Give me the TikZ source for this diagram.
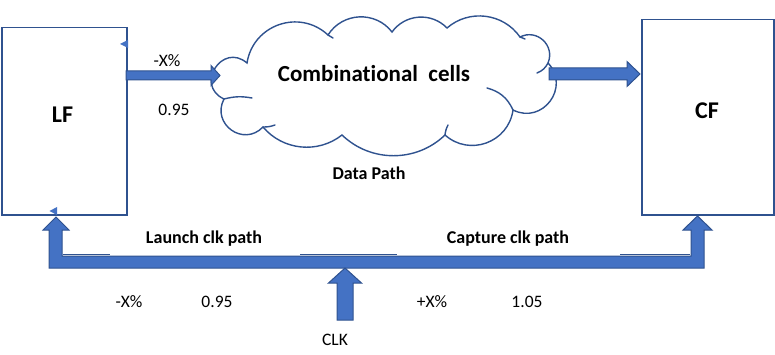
\documentclass[tikz,border=0pt]{standalone}
\usepackage{fontspec}
\setmainfont[Ligatures=CommonOff]{Carlito}
\usetikzlibrary{calc}
\definecolor{fillblue}{HTML}{4472C4}
\definecolor{lineblue}{HTML}{2F528F}
\newcommand\harrow[5]{% start, tip, shaft half, head half, head length
  \draw[barrow] ($(#1)+(0,-#3)$) -- ($(#2)+(-#5,-#3)$) -- ($(#2)+(-#5,-#4)$) -- (#2)
    -- ($(#2)+(-#5,#4)$) -- ($(#2)+(-#5,#3)$) -- ($(#1)+(0,#3)$) -- cycle;}
\begin{document}
\begin{tikzpicture}[x=1pt,y=-1pt,
  box/.style={draw=lineblue,line width=1.5pt,fill=white,inner sep=0,anchor=north west},
  barrow/.style={fill=fillblue,draw=lineblue,line width=1pt,line join=miter},
  cloudline/.style={draw=lineblue,line width=1.4pt,line cap=round},
  flag/.style={fill=fillblue,draw=none},
  lbl/.style={font=\fontsize{17.5}{20}\selectfont,inner sep=0,anchor=base},
  blbl/.style={font=\fontsize{18}{20}\selectfont\bfseries,inner sep=0,anchor=base},
  big/.style={font=\fontsize{24}{28}\selectfont\bfseries,inner sep=0,anchor=base},
  ]
\useasboundingbox (0,0) rectangle (775,355);
% flip-flops
\node[box, minimum width=125, minimum height=187] (LF) at (1,27) {};
\node[box, minimum width=132, minimum height=195] (CF) at (641,19) {};
\node[big] (LFt) at (62.5,123) {LF};
\node[big] (CFt) at (707,119) {CF};
% cloud (cusps clockwise)
\coordinate (c1) at (224,99);
\coordinate (c2) at (247,63);
\coordinate (c3) at (328,35);
\coordinate (c4) at (392,32);
\coordinate (c5) at (447,28);
\coordinate (c6) at (520,37);
\coordinate (c7) at (548,63);
\coordinate (c8) at (513,110);
\coordinate (c9) at (445,135);
\coordinate (c10) at (342,135);
\coordinate (c11) at (263,127);
\coordinate (cloud) at (385,85);
\path[cloudline, fill=white]
  (c1) to[bend left=98, looseness=1.95] (c2)
  to[bend left=62, looseness=1.16] (c3)
  to[bend left=55, looseness=1.08] (c4)
  to[bend left=50, looseness=1.04] (c5)
  to[bend left=48, looseness=1.02] (c6)
  to[bend left=70, looseness=1.27] (c7)
  to[bend left=80, looseness=1.45] (c8)
  to[bend left=62, looseness=1.16] (c9)
  to[bend left=44, looseness=0.99] (c10)
  to[bend left=44, looseness=0.99] (c11)
  to[bend left=82, looseness=1.5] (c1) -- cycle;
% inner strokes of the cloud
\draw[cloudline] (c1) to[bend left=12] (252,98);
\draw[cloudline] (c7) to[bend left=20] (537,73);
\draw[cloudline] (c8) to[bend right=25] (487,88);
\draw[cloudline] (c9) to[bend left=10] (448,125);
\draw[cloudline] (c11) to[bend right=10] (275,125);
\draw[cloudline] (c3) -- (333,38);
\draw[cloudline] (c6) -- (525,39);
\node[font=\fontsize{23}{26}\selectfont\bfseries,inner sep=0,anchor=base] (comb) at (374,82) {Combinational\ \ cells};
\node[blbl] (dp) at (369,180) {Data Path};
% data arrows
\coordinate (a1s) at (126,75.5);
\coordinate (a1t) at (220,75.5);
\harrow{a1s}{a1t}{4.5}{10}{9}
\coordinate (a2s) at (549,74);
\coordinate (a2t) at (640,74);
\harrow{a2s}{a2t}{6}{12.5}{13}
% small flags
\draw[flag] (120,44) -- (128,40) -- (128,48) -- cycle;
\draw[flag] (49.5,211) -- (57,207) -- (57,215) -- cycle;
% clock bus
\draw[barrow] (49,268) -- (49,230) -- (43,230) -- (56,217) -- (69,230) -- (62,230) -- (62,256)
  -- (691,256) -- (691,230) -- (683,230) -- (697.5,216) -- (712,230) -- (704,230) -- (704,268) -- cycle;
\draw[lineblue,line width=0.8pt] (63,254.5) -- (110,254.5);
\draw[lineblue,line width=0.8pt] (300,254.5) -- (397,254.5);
\draw[lineblue,line width=0.8pt] (620,254.5) -- (690,254.5);
% CLK arrow
\draw[barrow] (337,320) -- (337,283) -- (328.5,283) -- (345,268) -- (361.5,283) -- (353,283) -- (353,320) -- cycle;
% labels
\node[lbl] (m1) at (167,67) {-X\%};
\node[lbl] (v1) at (174,116) {0.95};
\node[blbl] (lcp) at (204,243) {Launch clk path};
\node[blbl] (ccp) at (508,243) {Capture clk path};
\node[lbl] (m2) at (129,307) {-X\%};
\node[lbl] (v2) at (217,307) {0.95};
\node[lbl] (p2) at (432,307) {+X\%};
\node[lbl] (v3) at (527,307) {1.05};
\node[lbl] (clk) at (335,345) {CLK};
\end{tikzpicture}
\end{document}
